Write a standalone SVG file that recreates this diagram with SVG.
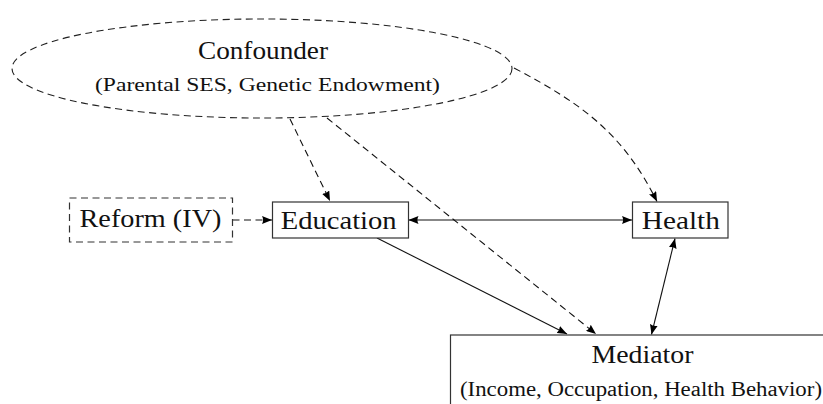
<svg xmlns="http://www.w3.org/2000/svg" width="823" height="404" viewBox="0 0 823 404">
  <style>
    .bg { fill: #ffffff; }
    .box { fill: #ffffff; stroke: #333333; stroke-width: 1.2; }
    .dbox { fill: #ffffff; stroke: #333333; stroke-width: 1.2; stroke-dasharray: 7 4.5; }
    .lbl { font-family: "Liberation Serif", "Times New Roman", serif; font-size: 25.5px; fill: #111111; text-anchor: middle; }
    .sub { font-family: "Liberation Serif", "Times New Roman", serif; font-size: 19.5px; fill: #111111; text-anchor: middle; }
    .edge { fill: none; stroke: #111111; stroke-width: 1.1; }
    .dash { stroke-dasharray: 7 4.5; }
  </style>
  <defs>
    <marker id="arr" viewBox="0 0 10 8" refX="10" refY="4" markerWidth="10" markerHeight="8" markerUnits="userSpaceOnUse" orient="auto-start-reverse">
      <path d="M0,0 L10,4 L0,8 Q2.2,4 0,0 Z" fill="#000000"/>
    </marker>
  </defs>
  <rect class="bg" x="0" y="0" width="823" height="404"/>

  <g id="edges">
    <path class="edge dash" d="M290,119 L330,201" marker-end="url(#arr)"/>
    <path class="edge dash" d="M327,118 L596,334" marker-end="url(#arr)"/>
    <path class="edge" d="M377,238 L567,334" marker-end="url(#arr)"/>
    <path class="edge" d="M408.5,220 L632,220" marker-start="url(#arr)" marker-end="url(#arr)"/>
    <path class="edge" d="M675,238.5 L651.5,334.5" marker-start="url(#arr)" marker-end="url(#arr)"/>
    <path class="edge dash" d="M514,68 C582.7,104 623.4,134 657,201.5" marker-end="url(#arr)"/>
    <path class="edge dash" d="M232.5,220 L272,220" marker-end="url(#arr)"/>
  </g>

  <g id="confounder">
    <ellipse cx="262" cy="68.5" rx="250" ry="49.5" fill="none" stroke="#222222" stroke-width="1.1" stroke-dasharray="7 4.5"/>
    <text class="lbl" x="263" y="59" textLength="130" lengthAdjust="spacingAndGlyphs">Confounder</text>
    <text class="sub" x="267.5" y="90.5" textLength="345" lengthAdjust="spacingAndGlyphs">(Parental SES, Genetic Endowment)</text>
  </g>

  <g id="reform">
    <rect class="dbox" x="69.5" y="198" width="163" height="44"/>
    <text class="lbl" x="150.5" y="226.5" textLength="142" lengthAdjust="spacingAndGlyphs">Reform (IV)</text>
  </g>

  <g id="education">
    <rect class="box" x="272.5" y="202" width="136" height="36"/>
    <text class="lbl" x="338.7" y="229" textLength="116" lengthAdjust="spacingAndGlyphs">Education</text>
  </g>

  <g id="health">
    <rect class="box" x="632.5" y="202" width="95.5" height="36"/>
    <text class="lbl" x="680.8" y="229" textLength="78" lengthAdjust="spacingAndGlyphs">Health</text>
  </g>

  <g id="mediator">
    <rect class="box" x="450.5" y="335" width="390" height="100"/>
    <text class="lbl" x="642.5" y="363.3" textLength="102" lengthAdjust="spacingAndGlyphs">Mediator</text>
    <text class="sub" x="641" y="395.5" style="font-size:20px" textLength="362" lengthAdjust="spacingAndGlyphs">(Income, Occupation, Health Behavior)</text>
  </g>
</svg>
